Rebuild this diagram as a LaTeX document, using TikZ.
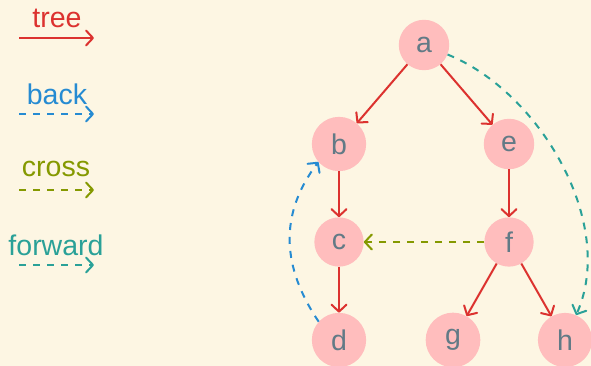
\documentclass[tikz,border=0pt]{standalone}
\usepackage{fontspec}
\setmainfont{Liberation Sans}
\usetikzlibrary{arrows.meta}
\definecolor{bgc}{HTML}{FDF6E3}
\definecolor{nodefill}{HTML}{FFBDBD}
\definecolor{nodetext}{HTML}{627A86}
\definecolor{treec}{HTML}{DC322F}
\definecolor{backc}{HTML}{268BD2}
\definecolor{crossc}{HTML}{859900}
\definecolor{fwdc}{HTML}{2AA198}
\tikzset{
  vertex/.style={circle, fill=nodefill, text=nodetext, inner sep=10pt, font=\fontsize{28.5}{32}\selectfont},
  legtext/.style={inner sep=0pt, font=\fontsize{28.5}{32}\selectfont},
  edgebase/.style={line width=2pt, -{Straight Barb[length=7pt,width=15pt,round]}},
  treeedge/.style={edgebase, draw=treec},
  backedge/.style={edgebase, draw=backc, dash pattern=on 7pt off 7pt},
  crossedge/.style={edgebase, draw=crossc, dash pattern=on 7pt off 7pt},
  fwdedge/.style={edgebase, draw=fwdc, dash pattern=on 7pt off 7pt},
}
\begin{document}
\begin{tikzpicture}[x=1pt,y=1pt]
\useasboundingbox (0,0) rectangle (591,366);
\fill[bgc] (0,0) rectangle (591,366);
% legend
\node[legtext, text=treec] (lt) at (57,348) {tree};
\coordinate (lt1) at (19,328); \coordinate (lt2) at (94,328);
\draw[treeedge] (lt1) -- (lt2);
\node[legtext, text=backc] (lb) at (57,272) {back};
\coordinate (lb1) at (19,252); \coordinate (lb2) at (94,252);
\draw[backedge] (lb1) -- (lb2);
\node[legtext, text=crossc] (lc) at (56,197) {cross};
\coordinate (lc1) at (19,176); \coordinate (lc2) at (94,176);
\draw[crossedge] (lc1) -- (lc2);
\node[legtext, text=fwdc] (lf) at (56,121) {forward};
\coordinate (lf1) at (19,101); \coordinate (lf2) at (94,101);
\draw[fwdedge] (lf1) -- (lf2);
% graph
\node[vertex] (a) at (424,321) {a};
\node[vertex] (b) at (339,222) {b};
\node[vertex] (c) at (339,124) {c};
\node[vertex] (d) at (339,26) {d};
\node[vertex] (e) at (509,222) {e};
\node[vertex] (f) at (509,124) {f};
\node[vertex] (g) at (453,26) {g};
\node[vertex] (h) at (565,26) {h};
\draw[treeedge] (a) -- (b);
\draw[treeedge] (a) -- (e);
\draw[treeedge] (b) -- (c);
\draw[treeedge] (c) -- (d);
\draw[treeedge] (e) -- (f);
\draw[treeedge] (f) -- (g);
\draw[treeedge] (f) -- (h);
\draw[crossedge] (f) -- (c);
\draw[backedge] (d.138) .. controls +(124:66) and +(233:66) .. (b.221);
\draw[fwdedge] (a.-22) .. controls +(-22:100) and +(66:100) .. (h.66);
\end{tikzpicture}
\end{document}
